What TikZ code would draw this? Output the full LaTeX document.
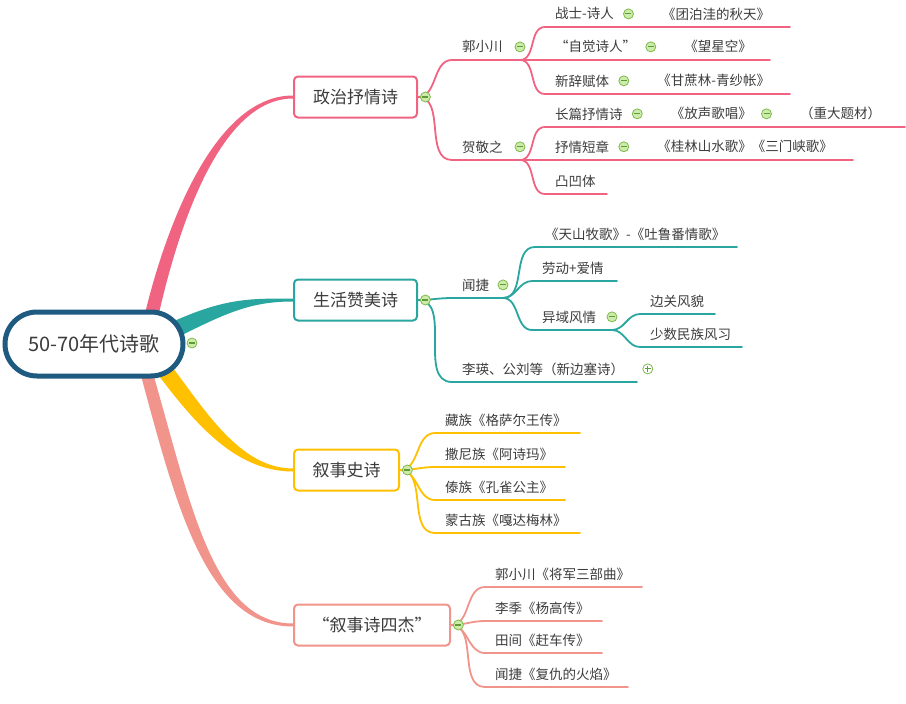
\documentclass[tikz,border=0pt]{standalone}
\usepackage{fontspec}
\setmainfont{Noto Sans CJK SC}
\usetikzlibrary{positioning,calc,backgrounds}
\definecolor{rootBlue}{RGB}{31,90,128}
\definecolor{myPink}{RGB}{240,100,130}
\definecolor{myTeal}{RGB}{42,166,160}
\definecolor{myYellow}{RGB}{255,192,0}
\definecolor{mySalmon}{RGB}{240,148,140}
\definecolor{foldLine}{RGB}{125,185,75}
\definecolor{foldFill}{RGB}{205,235,170}
\definecolor{foldSign}{RGB}{95,155,55}
\definecolor{textGray}{RGB}{60,60,60}
\tikzset{
  rootbox/.style={draw=rootBlue, line width=5pt, fill=white, rounded corners=32pt,
    minimum width=178pt, minimum height=64pt, text=textGray, font=\fontsize{20}{24}\selectfont},
  topic/.style={draw, line width=2pt, rounded corners=4pt, fill=white, text=textGray,
    minimum height=41pt, font=\fontsize{17}{20}\selectfont},
  leaf/.style={anchor=base west, xshift=10pt, yshift=8pt, inner sep=0pt, text=textGray,
    font=\fontsize{13.5}{16}\selectfont},
  note/.style={inner sep=0pt, text=textGray, font=\fontsize{13.5}{16}\selectfont},
  fold/.style={circle, draw=foldLine, fill=foldFill, line width=0.8pt, minimum size=10pt, inner sep=0pt,
    path picture={\draw[foldSign, line width=1.1pt]
      ([xshift=-3pt]path picture bounding box.center) -- ([xshift=3pt]path picture bounding box.center);}},
  unfold/.style={fold, fill=white,
    path picture={\draw[foldSign, line width=1.1pt]
      ([xshift=-3pt]path picture bounding box.center) -- ([xshift=3pt]path picture bounding box.center)
      ([yshift=-3pt]path picture bounding box.center) -- ([yshift=3pt]path picture bounding box.center);}},
  sub/.style={line width=1.8pt, line cap=round}
}
\begin{document}
\begin{tikzpicture}[x=1pt,y=-1pt,node distance=9pt]
  \useasboundingbox (0,0) rectangle (906,704);
  \node[rootbox] (root) at (94,344) {50-70年代诗歌};
  \node[fold] (f0) at (192,343) {};
  \node[topic, draw=myPink, minimum width=123pt] (t1) at (355.5,97) {政治抒情诗};
  \node[fold, right=2pt of t1] (f1) {};
  \node[topic, draw=myTeal, minimum width=123pt] (t2) at (355.5,300) {生活赞美诗};
  \node[fold, right=2pt of t2] (f2) {};
  \node[topic, draw=myYellow, minimum width=105pt] (t3) at (346.5,470) {叙事史诗};
  \node[fold, right=2pt of t3] (f3) {};
  \node[topic, draw=mySalmon, minimum width=156pt] (t4) at (372,625) {“叙事诗四杰”};
  \node[fold, right=2pt of t4] (f4) {};

  \coordinate (p11a) at (452,60);
  \coordinate (h11) at (520,60);
  \node[leaf] (p11) at (p11a) {郭小川};
  \node[fold] (f11) at (h11 |- p11) {};
  \coordinate (g1a) at (545,27);
  \coordinate (g1b) at (790,27);
  \node[leaf] (g1) at (g1a) {战士-诗人};
  \node[fold, right=of g1] (f1a) {};
  \node[note, right=28pt of f1a] (g1x) {《团泊洼的秋天》};
  \coordinate (g2a) at (545,60);
  \coordinate (g2b) at (770,60);
  \node[leaf] (g2) at (g2a) {“自觉诗人”};
  \node[fold, right=of g2] (f2a) {};
  \node[note, right=28pt of f2a] (g2x) {《望星空》};
  \coordinate (g3a) at (545,94);
  \coordinate (g3b) at (790,94);
  \node[leaf] (g3) at (g3a) {新辞赋体};
  \node[fold, right=of g3] (f3a) {};
  \node[note, right=28pt of f3a] (g3x) {《甘蔗林-青纱帐》};

  \coordinate (p12a) at (452,160);
  \coordinate (h12) at (520,160);
  \node[leaf] (p12) at (p12a) {贺敬之};
  \node[fold] (f12) at (h12 |- p12) {};
  \coordinate (g4a) at (545,127);
  \coordinate (g4b) at (905,127);
  \node[leaf] (g4) at (g4a) {长篇抒情诗};
  \node[fold, right=of g4] (f4a) {};
  \node[note, right=28pt of f4a] (g4x) {《放声歌唱》};
  \node[fold, right=of g4x] (f4b) {};
  \node[note, right=28pt of f4b] (g4y) {（重大题材）};
  \coordinate (g5a) at (545,160);
  \coordinate (g5b) at (853,160);
  \node[leaf] (g5) at (g5a) {抒情短章};
  \node[fold, right=of g5] (f5a) {};
  \node[note, right=28pt of f5a] (g5x) {《桂林山水歌》《三门峡歌》};
  \coordinate (g6a) at (545,194);
  \coordinate (g6b) at (607,194);
  \node[leaf] (g6) at (g6a) {凸凹体};

  \coordinate (p21a) at (452,298);
  \coordinate (h21) at (503,298);
  \node[leaf] (p21) at (p21a) {闻捷};
  \node[fold] (f21) at (h21 |- p21) {};
  \coordinate (g7a) at (535,247);
  \coordinate (g7b) at (737,247);
  \node[leaf] (g7) at (g7a) {《天山牧歌》-《吐鲁番情歌》};
  \coordinate (g8a) at (532,281);
  \coordinate (g8b) at (617,281);
  \node[leaf] (g8) at (g8a) {劳动+爱情};
  \coordinate (p22a) at (532,330);
  \coordinate (h22) at (612,330);
  \node[leaf] (p22) at (p22a) {异域风情};
  \node[fold] (f22) at (h22 |- p22) {};
  \coordinate (g9a) at (640,314);
  \coordinate (g9b) at (715,314);
  \node[leaf] (g9) at (g9a) {边关风貌};
  \coordinate (g10a) at (640,347);
  \coordinate (g10b) at (742,347);
  \node[leaf] (g10) at (g10a) {少数民族风习};
  \coordinate (p23a) at (452,382);
  \coordinate (p23b) at (637,382);
  \node[leaf] (p23) at (p23a) {李瑛、公刘等（新边塞诗）};
  \node[unfold, right=18pt of p23] (f23) {};

  \coordinate (c1a) at (435,433);
  \coordinate (c1b) at (580,433);
  \node[leaf] (c1) at (c1a) {藏族《格萨尔王传》};
  \coordinate (c2a) at (435,467);
  \coordinate (c2b) at (565,467);
  \node[leaf] (c2) at (c2a) {撒尼族《阿诗玛》};
  \coordinate (c3a) at (435,500);
  \coordinate (c3b) at (565,500);
  \node[leaf] (c3) at (c3a) {傣族《孔雀公主》};
  \coordinate (c4a) at (435,533);
  \coordinate (c4b) at (580,533);
  \node[leaf] (c4) at (c4a) {蒙古族《嘎达梅林》};

  \coordinate (d1a) at (485,587);
  \coordinate (d1b) at (642,587);
  \node[leaf] (d1) at (d1a) {郭小川《将军三部曲》};
  \coordinate (d2a) at (485,621);
  \coordinate (d2b) at (602,621);
  \node[leaf] (d2) at (d2a) {李季《杨高传》};
  \coordinate (d3a) at (485,653);
  \coordinate (d3b) at (602,653);
  \node[leaf] (d3) at (d3a) {田间《赶车传》};
  \coordinate (d4a) at (485,687);
  \coordinate (d4b) at (628,687);
  \node[leaf] (d4) at (d4a) {闻捷《复仇的火焰》};

  \begin{scope}[on background layer]
    \fill[myPink] ($(root.north)+(50,8)$) .. controls (166,225) and (215,95.5) .. ($(t1.west)+(0,-1.5)$)
      -- ($(t1.west)+(0,1.5)$) .. controls (220,98.5) and (178,228) .. ($(root.north)+(64,8)$) -- cycle;
    \fill[myTeal] (172,322) .. controls (225,298) and (250,298.5) .. ($(t2.west)+(0,-1.5)$)
      -- ($(t2.west)+(0,1.5)$) .. controls (252,301.5) and (228,312) .. (178,337) -- cycle;
    \fill[myYellow] (170,364) .. controls (205,410) and (240,468.5) .. ($(t3.west)+(0,-1.5)$)
      -- ($(t3.west)+(0,1.5)$) .. controls (236,471.5) and (196,425) .. (156,372) -- cycle;
    \fill[mySalmon] (152,370) .. controls (190,500) and (212,623.5) .. ($(t4.west)+(0,-1.5)$)
      -- ($(t4.west)+(0,1.5)$) .. controls (206,626.5) and (176,505) .. (140,372) -- cycle;

    \draw[sub, myPink] (t1.east) to[out=0,in=180] (p11a) -- (h11);
    \draw[sub, myPink] (t1.east) to[out=0,in=180] (p12a) -- (h12);
    \foreach \g in {g1,g2,g3}
      \draw[sub, myPink] (h11) to[out=0,in=180] (\g a) -- (\g b);
    \foreach \g in {g4,g5,g6}
      \draw[sub, myPink] (h12) to[out=0,in=180] (\g a) -- (\g b);

    \draw[sub, myTeal] (t2.east) to[out=0,in=180] (p21a) -- (h21);
    \draw[sub, myTeal] (t2.east) to[out=0,in=180] (p23a) -- (p23b);
    \foreach \g in {g7,g8}
      \draw[sub, myTeal] (h21) to[out=0,in=180] (\g a) -- (\g b);
    \draw[sub, myTeal] (h21) to[out=0,in=180] (p22a) -- (h22);
    \foreach \g in {g9,g10}
      \draw[sub, myTeal] (h22) to[out=0,in=180] (\g a) -- (\g b);

    \foreach \g in {c1,c2,c3,c4}
      \draw[sub, myYellow] (t3.east) to[out=0,in=180] (\g a) -- (\g b);
    \foreach \g in {d1,d2,d3,d4}
      \draw[sub, mySalmon] (t4.east) to[out=0,in=180] (\g a) -- (\g b);
  \end{scope}
\end{tikzpicture}
\end{document}
